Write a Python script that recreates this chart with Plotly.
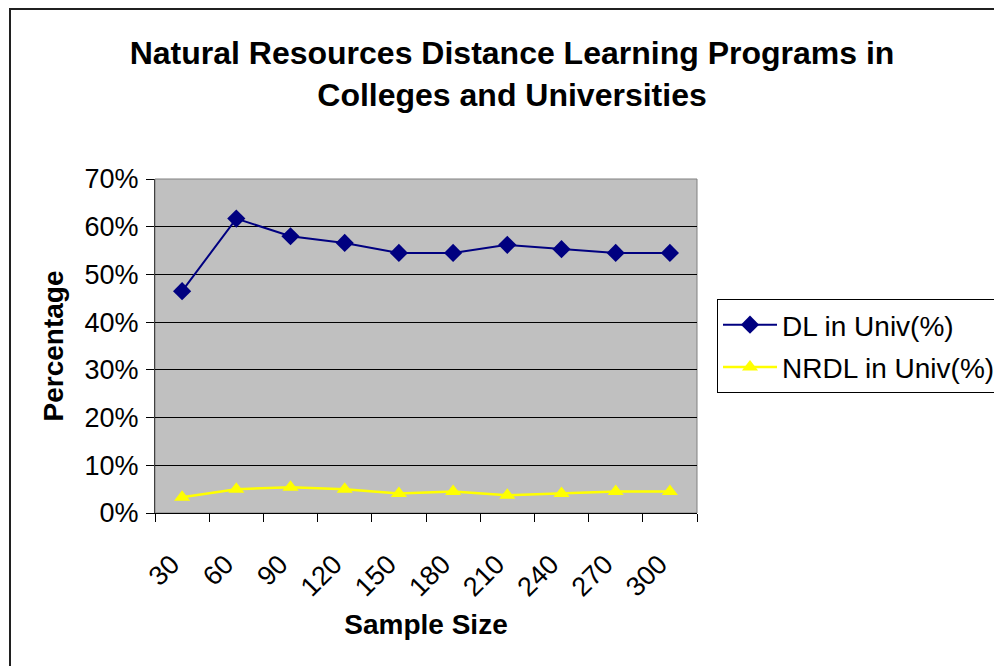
import plotly.graph_objects as go

sample_sizes = ["30", "60", "90", "120", "150", "180", "210", "240", "270", "300"]
dl_univ = [46.5, 61.7, 58.0, 56.6, 54.5, 54.5, 56.2, 55.3, 54.5, 54.5]
nrdl_univ = [3.3, 5.0, 5.4, 5.0, 4.1, 4.5, 3.7, 4.1, 4.5, 4.5]
y_ticks = [0, 10, 20, 30, 40, 50, 60, 70]

# page body has an 8px default margin, so figure coordinates = page - 8
OFF = 8
W, H = 1002, 666
L, R, T, B = 155 - OFF, 697 - OFF, 179 - OFF, 513 - OFF

FONT = "Liberation Sans, Arial, sans-serif"

fig = go.Figure()
fig.add_trace(go.Scatter(
    x=sample_sizes, y=dl_univ, name="DL in Univ(%)", mode="lines+markers",
    line=dict(color="#000080", width=2),
    marker=dict(symbol="diamond", size=14, color="#000080"),
    legendgroup="a",
))
fig.add_trace(go.Scatter(
    x=sample_sizes, y=nrdl_univ, name="NRDL in Univ(%)", mode="lines+markers",
    line=dict(color="#FFFF00", width=2.5),
    marker=dict(symbol="triangle-up", size=14, color="#FFFF00"),
    legendgroup="b",
))

pw = R - L
ph = B - T
def px_x(x):
    return (x - OFF - L) / pw
def px_y(y):
    return (B - (y - OFF)) / ph

fig.update_layout(
    width=W, height=H,
    margin=dict(l=L, r=W - R, t=T, b=H - B, autoexpand=False),
    paper_bgcolor="white",
    plot_bgcolor="#C0C0C0",
    font=dict(family=FONT, color="black", size=26),
    title=dict(
        text="<b>Natural Resources Distance Learning Programs in<br>Colleges and Universities</b>",
        x=px_x(512), xref="paper", xanchor="center",
        y=1 - (64 - OFF) / H, yref="container", yanchor="middle",
        font=dict(size=32, family=FONT),
    ),
    xaxis=dict(
        type="category", range=[-0.5, 9.5],
        tickvals=sample_sizes, ticktext=[s + "\u00a0\u00a0" for s in sample_sizes],
        tickson="boundaries", ticks="outside", ticklen=8, tickcolor="black",
        tickangle=-45, ticklabelstandoff=13,
        showgrid=False, showline=True, linecolor="black", linewidth=1,
        tickfont=dict(size=27),
        title=dict(text="<b>Sample Size</b>", font=dict(size=28), standoff=13),
    ),
    yaxis=dict(
        range=[0, 70], tickvals=y_ticks, ticktext=[f"{v}%" for v in y_ticks],
        ticks="outside", ticklen=8, tickcolor="black", ticklabelstandoff=2,
        showgrid=True, gridcolor="black", gridwidth=1,
        showline=True, linecolor="#404040", linewidth=1,
        zeroline=False,
        tickfont=dict(size=27),
        title=dict(text="<b>Percentage</b>", font=dict(size=28), standoff=12),
    ),
    legend=dict(
        x=px_x(717), xanchor="left", y=px_y(299), yanchor="top",
        bordercolor="black", borderwidth=1, bgcolor="white",
        font=dict(size=28), tracegroupgap=3, traceorder="grouped",
        itemwidth=54,
    ),
    shapes=[
        dict(type="rect", xref="paper", yref="paper", x0=0, x1=1, y0=0, y1=1,
             line=dict(color="#808080", width=1), fillcolor="rgba(0,0,0,0)", layer="below"),
        dict(type="rect", xref="paper", yref="paper",
             x0=px_x(10), x1=px_x(1100), y0=px_y(800), y1=px_y(9),
             line=dict(color="#202020", width=2), fillcolor="rgba(0,0,0,0)"),
    ],
)

fig.write_html("out.html")
